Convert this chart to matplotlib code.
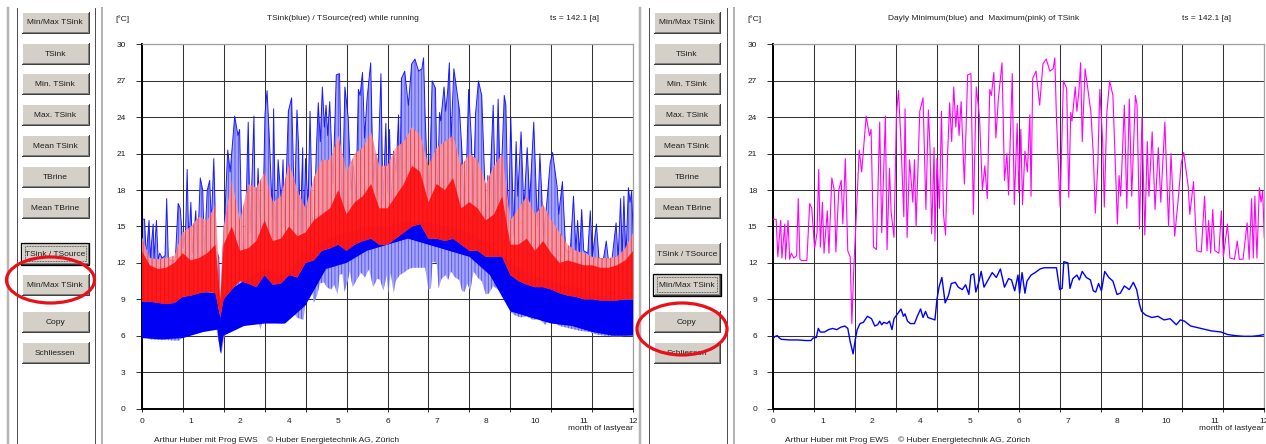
import numpy as np
import matplotlib.pyplot as plt
from matplotlib.patches import Rectangle, Ellipse

plt.rcParams['font.family'] = ['Liberation Sans', 'DejaVu Sans']
plt.rcParams['hatch.linewidth'] = 0.6

#======================================================================================
#=================================<<< Chart data >>>===================================
#======================================================================================
# daily maximum of TSink (pink, right chart / upper envelope left chart)
tmax_month = [0.00, 0.07, 0.11, 0.18, 0.21, 0.28, 0.30, 0.36, 0.40, 0.44,
              0.50, 0.57, 0.61, 0.65, 0.69, 0.82, 0.89, 0.94, 1.01, 1.07,
              1.11, 1.15, 1.20, 1.24, 1.32, 1.36, 1.43, 1.49, 1.53, 1.60,
              1.66, 1.70, 1.76, 1.82, 1.88, 1.92, 1.97, 2.03, 2.10, 2.16,
              2.27, 2.35, 2.39, 2.45, 2.52, 2.60, 2.65, 2.74, 2.78, 2.84,
              2.88, 2.95, 3.01, 3.06, 3.12, 3.19, 3.22, 3.27, 3.33, 3.41,
              3.45, 3.49, 3.58, 3.66, 3.73, 3.79, 3.83, 3.87, 3.93, 3.95,
              4.00, 4.06, 4.11, 4.16, 4.21, 4.26, 4.31, 4.36, 4.41, 4.46,
              4.50, 4.54, 4.59, 4.67, 4.75, 4.83, 4.89, 4.96, 5.04, 5.11,
              5.17, 5.23, 5.29, 5.33, 5.39, 5.44, 5.50, 5.59, 5.65, 5.71,
              5.75, 5.84, 5.89, 5.96, 6.00, 6.05, 6.09, 6.15, 6.21, 6.27,
              6.30, 6.34, 6.42, 6.51, 6.59, 6.67, 6.76, 6.84, 6.88, 6.92,
              6.96, 7.01, 7.09, 7.17, 7.22, 7.27, 7.30, 7.38, 7.42, 7.47,
              7.51, 7.55, 7.62, 7.68, 7.76, 7.82, 7.87, 7.93, 7.98, 8.05,
              8.09, 8.15, 8.22, 8.30, 8.34, 8.41, 8.45, 8.49, 8.58, 8.64,
              8.70, 8.76, 8.85, 8.89, 8.95, 9.01, 9.08, 9.14, 9.18, 9.26,
              9.33, 9.41, 9.47, 9.57, 9.66, 9.72, 9.81, 9.89, 9.97, 10.03,
              10.14, 10.18, 10.27, 10.35, 10.46, 10.54, 10.60, 10.64, 10.69, 10.74,
              10.79, 10.89, 10.95, 11.00, 11.10, 11.16, 11.27, 11.34, 11.39, 11.48,
              11.58, 11.63, 11.69, 11.73, 11.77, 11.82, 11.88, 11.92, 11.96, 12.00]
tmax_val = [15.6, 15.6, 12.5, 15.5, 12.4, 15.2, 12.3, 15.5, 12.3, 12.8,
            12.4, 12.6, 17.3, 12.3, 12.2, 12.2, 16.9, 16.5, 13.2, 14.5,
            19.7, 13.3, 17.0, 12.8, 16.3, 12.8, 19.0, 18.0, 12.9, 18.0,
            18.8, 15.2, 20.6, 13.0, 12.5, 7.0, 11.8, 16.0, 21.3, 19.5,
            24.1, 22.5, 23.0, 13.3, 13.1, 23.6, 14.5, 24.1, 13.1, 19.8,
            16.2, 14.1, 24.3, 26.2, 22.0, 15.8, 24.7, 14.1, 20.5, 17.0,
            20.5, 15.0, 24.5, 25.6, 16.4, 24.6, 21.5, 14.4, 21.5, 13.8,
            20.6, 16.5, 24.5, 16.0, 14.3, 21.0, 25.2, 22.0, 26.5, 23.2,
            25.0, 22.5, 25.3, 18.5, 27.5, 27.6, 16.0, 26.5, 24.0, 18.0,
            20.0, 17.3, 26.3, 25.8, 27.7, 22.3, 25.5, 28.5, 18.8, 21.0,
            17.6, 27.6, 16.8, 23.5, 17.8, 23.0, 16.8, 21.2, 19.5, 24.2,
            17.5, 27.2, 27.8, 25.0, 28.4, 28.8, 27.8, 28.0, 28.9, 24.0,
            20.6, 16.6, 27.0, 26.4, 17.4, 24.4, 23.7, 26.5, 24.5, 26.2,
            28.5, 22.0, 28.0, 26.5, 24.5, 21.0, 16.1, 20.0, 26.3, 22.0,
            16.6, 24.3, 27.0, 25.8, 22.0, 15.2, 19.2, 17.5, 25.0, 16.5,
            25.5, 17.5, 25.8, 25.0, 14.8, 24.0, 14.3, 22.0, 17.5, 22.8,
            16.4, 21.5, 17.0, 23.6, 15.0, 21.0, 14.2, 17.0, 20.2, 21.1,
            18.3, 16.0, 18.7, 13.0, 12.9, 17.5, 13.0, 15.5, 12.8, 16.4,
            13.0, 12.8, 16.3, 12.5, 15.2, 12.4, 12.3, 13.8, 12.3, 12.3,
            15.3, 12.3, 17.3, 12.4, 17.5, 12.4, 18.2, 17.0, 17.9, 14.1]

# daily minimum of TSink (blue, right chart / lower envelope left chart)
tmin_month = [0.00, 0.05, 0.10, 0.15, 0.20, 0.40, 0.60, 0.80, 0.92, 0.97,
              1.05, 1.10, 1.15, 1.25, 1.35, 1.45, 1.55, 1.65, 1.75, 1.82,
              1.88, 1.95, 2.00, 2.05, 2.12, 2.20, 2.30, 2.40, 2.48, 2.55,
              2.60, 2.65, 2.70, 2.78, 2.84, 2.90, 2.95, 3.12, 3.18, 3.22,
              3.28, 3.35, 3.45, 3.52, 3.60, 3.66, 3.72, 3.78, 3.95, 4.00,
              4.05, 4.12, 4.20, 4.28, 4.35, 4.45, 4.52, 4.62, 4.70, 4.78,
              4.83, 4.90, 4.95, 5.03, 5.08, 5.15, 5.25, 5.35, 5.45, 5.55,
              5.65, 5.75, 5.82, 5.90, 5.98, 6.02, 6.08, 6.15, 6.20, 6.30,
              6.40, 6.52, 6.62, 6.80, 6.92, 7.00, 7.06, 7.10, 7.20, 7.25,
              7.32, 7.42, 7.48, 7.55, 7.65, 7.75, 7.82, 7.88, 7.95, 8.02,
              8.10, 8.20, 8.30, 8.40, 8.48, 8.58, 8.70, 8.80, 8.88, 8.95,
              9.00, 9.10, 9.25, 9.40, 9.55, 9.70, 9.85, 9.95, 10.05, 10.20,
              10.45, 10.70, 10.95, 11.10, 11.30, 11.50, 11.70, 11.85, 12.00]
tmin_val = [5.8, 5.95, 6.0, 5.8, 5.7, 5.65, 5.65, 5.6, 5.6, 5.8,
            5.85, 6.6, 6.3, 6.3, 6.5, 6.6, 6.5, 6.7, 6.8, 6.6,
            5.5, 4.5, 5.6, 6.5, 7.0, 7.1, 7.6, 7.4, 6.8, 6.9,
            7.2, 6.9, 7.1, 7.0, 7.2, 6.5, 7.4, 8.2, 7.6, 7.8,
            7.2, 7.0, 7.0, 7.6, 8.2, 7.5, 8.0, 7.5, 7.3, 9.0,
            10.0, 10.8, 8.7, 9.3, 10.3, 10.4, 10.0, 9.8, 10.2, 9.4,
            11.0, 11.1, 9.6, 10.5, 11.3, 10.0, 10.6, 11.2, 10.8, 11.5,
            10.0, 10.7, 10.6, 9.7, 11.0, 9.5, 11.2, 9.5, 10.5, 11.0,
            11.2, 11.5, 11.6, 11.6, 11.6, 9.8, 9.9, 12.1, 12.0, 9.9,
            10.7, 11.0, 10.6, 11.3, 10.8, 10.6, 9.7, 9.6, 10.3, 9.7,
            11.3, 10.8, 10.5, 9.4, 9.5, 10.1, 9.8, 10.4, 9.8, 8.6,
            8.0, 7.7, 7.5, 7.6, 7.3, 7.4, 6.9, 7.3, 7.2, 6.8,
            6.6, 6.4, 6.3, 6.1, 6.0, 5.95, 5.95, 6.0, 6.1]

# dense part of TSink while running (dark blue band, left chart)
core_month = [0.0, 0.5, 1.0, 1.5, 1.85, 1.92, 2.0, 2.5, 3.0, 3.5, 4.0, 4.5, 5.0,
              5.5, 6.0, 6.5, 7.0, 7.5, 8.0, 8.5, 9.0, 9.5, 10.0, 10.5, 11.0, 11.5, 12.0]
core_lo = [5.8, 5.7, 5.8, 6.3, 6.5, 4.5, 6.0, 6.8, 7.0, 7.0, 8.5, 11.5, 12.0,
           13.0, 13.5, 14.0, 13.5, 13.0, 12.5, 11.0, 8.0, 7.5, 7.0, 6.8, 6.3, 6.0, 6.0]
core_hi = [9.0, 8.7, 9.2, 9.6, 9.5, 7.5, 9.5, 10.5, 11.5, 11.0, 13.0, 14.0, 14.5,
           15.0, 15.0, 15.5, 15.3, 15.0, 14.5, 13.5, 12.0, 11.0, 10.5, 10.0, 9.5, 9.0, 9.0]

# TSource while running (red, left chart)
src_month = [0.0, 0.2, 0.4, 0.6, 0.8, 1.0, 1.2, 1.4, 1.6, 1.8, 1.92, 2.0, 2.2, 2.4,
             2.6, 2.8, 3.0, 3.2, 3.4, 3.6, 3.8, 4.0, 4.2, 4.4, 4.6, 4.8, 5.0, 5.2,
             5.4, 5.6, 5.8, 6.0, 6.2, 6.4, 6.6, 6.8, 7.0, 7.2, 7.4, 7.6, 7.8, 8.0,
             8.2, 8.4, 8.6, 8.8, 9.0, 9.2, 9.4, 9.6, 9.8, 10.0, 10.2, 10.4, 10.6,
             10.8, 11.0, 11.2, 11.4, 11.6, 11.8, 12.0]
src_lo = [8.8, 8.8, 8.7, 8.6, 8.7, 9.2, 9.3, 9.5, 9.6, 9.5, 7.5, 9.0, 9.8, 10.5,
          10.3, 10.0, 11.0, 10.2, 10.3, 11.0, 10.8, 12.0, 12.2, 13.0, 13.2, 13.5, 13.0, 13.5,
          13.8, 14.0, 13.5, 13.5, 14.0, 14.5, 15.0, 15.2, 14.0, 14.0, 13.8, 14.0, 13.5, 13.0,
          13.0, 12.5, 12.5, 12.5, 11.0, 10.5, 10.2, 10.0, 10.0, 9.8, 9.5, 9.3, 9.2,
          9.0, 9.0, 8.9, 8.9, 8.9, 9.0, 9.0]
src_core = [13.0, 11.8, 11.5, 11.6, 12.0, 12.8, 12.2, 12.4, 12.8, 13.5, 9.0, 13.5, 15.0, 13.0,
            13.2, 13.8, 15.5, 13.8, 14.0, 15.0, 14.2, 14.5, 15.5, 16.0, 16.5, 18.0, 16.0, 17.0,
            17.5, 18.5, 16.5, 16.5, 17.5, 18.5, 20.0, 19.5, 17.0, 18.5, 18.0, 19.0, 16.5, 17.0,
            16.5, 15.5, 16.0, 17.5, 13.5, 13.5, 14.0, 13.0, 13.8, 12.8, 12.0, 12.2, 12.0,
            11.8, 11.8, 11.6, 11.6, 11.8, 12.2, 13.0]
src_hi = [14.2, 12.4, 12.3, 12.4, 12.6, 14.5, 15.0, 15.8, 15.5, 16.8, 9.5, 15.0, 18.8, 15.5,
          18.5, 18.2, 19.5, 17.0, 17.5, 20.2, 18.0, 16.5, 19.0, 20.5, 20.5, 22.5, 19.5, 21.0,
          21.5, 22.8, 20.0, 20.0, 21.5, 22.0, 23.2, 22.5, 20.0, 21.5, 22.0, 22.5, 20.0, 21.0,
          20.5, 18.5, 20.0, 21.0, 15.5, 16.5, 17.5, 16.0, 16.8, 15.5, 14.5, 13.5, 13.0,
          12.8, 12.5, 12.4, 12.4, 12.5, 13.2, 14.5]

# axis labelling (grid at whole months, labels at tenths of the year, rounded)
xlabel_pos = [0, 1.2, 2.4, 3.6, 4.8, 6.0, 7.2, 8.4, 9.6, 10.8, 12]
xlabels = ['0', '1', '2', '4', '5', '6', '7', '8', '10', '11', '12']
yticks = [0, 3, 6, 9, 12, 15, 18, 21, 24, 27, 30]

button_labels = ['Min/Max TSink', 'TSink', 'Min. TSink', 'Max. TSink', 'Mean TSink',
                 'TBrine', 'Mean TBrine', 'TSink / TSource', 'Min/Max TSink', 'Copy', 'Schliessen']
button_tops = [12, 43, 73, 104, 135, 166, 197, 243, 274, 311, 342]

FOOTER = 'Arthur Huber mit Prog EWS    \u00a9 Huber Energietechnik AG, Z\u00fcrich'
FS = 6.0
TXT = '#1e1e1e'

#======================================================================================
#===============================<<< Figure / window >>>================================
#======================================================================================
W, H = 1266, 444
fig = plt.figure(figsize=(W / 100, H / 100), dpi=100)
bg = fig.add_axes([0, 0, 1, 1])
bg.set_xlim(0, W)
bg.set_ylim(H, 0)
bg.axis('off')


def px(v):
    return v * 0.72  # pixel -> points at 100 dpi


def px_axes(x0, x1, top, bottom):
    return fig.add_axes([x0 / W, 1 - bottom / H, (x1 - x0) / W, (bottom - top) / H])


def draw_button(x, y, w, h, label, default=False):
    bg.add_patch(Rectangle((x, y), w, h, facecolor='#d4d0c8', edgecolor='none', zorder=2))
    bg.plot([x, x, x + w], [y + h, y, y], color='white', lw=px(1), zorder=3)
    bg.plot([x + 1, x + w - 1, x + w - 1], [y + h - 1, y + h - 1, y + 1], color='#808080', lw=px(1), zorder=3)
    bg.plot([x, x + w, x + w], [y + h, y + h, y], color='#404040', lw=px(1), zorder=3)
    if default:
        bg.add_patch(Rectangle((x - 0.5, y - 0.5), w + 1, h + 1, fill=False,
                               edgecolor='black', lw=px(1.3), zorder=4))
        bg.add_patch(Rectangle((x + 3, y + 3), w - 6, h - 6, fill=False, edgecolor='#303030',
                               lw=px(0.8), ls=(0, (1, 1)), zorder=4))
    bg.text(x + w / 2, y + h / 2 + 0.5, label, ha='center', va='center',
            fontsize=FS, color=TXT, zorder=5)


def draw_panel(x_left, x_right, default_idx):
    # separator lines of the window frame
    bg.plot([x_left - 9, x_left - 9], [8, H], color='#b4b4b4', lw=px(2.5), zorder=1)
    bg.plot([x_left, x_left], [8, H], color='#505050', lw=px(1), zorder=1)
    bg.plot([x_right, x_right], [8, H], color='#505050', lw=px(1), zorder=1)
    bg.plot([x_right + 7, x_right + 7], [8, H], color='#b4b4b4', lw=px(2), zorder=1)
    bx = x_left + 4.5
    bw = x_right - x_left - 11
    for i, (lab, top) in enumerate(zip(button_labels, button_tops)):
        draw_button(bx, top, bw, 21, lab, default=(i == default_idx))


def setup_chart(ax):
    ax.set_xlim(0, 12)
    ax.set_ylim(0, 30)
    ax.set_xticks(range(13))
    ax.set_xticks(xlabel_pos, minor=True)
    ax.set_xticklabels(xlabels, minor=True)
    ax.xaxis.remove_overlapping_locs = False
    ax.tick_params(axis='x', which='major', length=2.5, width=0.7, color='#303030', labelbottom=False)
    ax.tick_params(axis='x', which='minor', length=0, pad=6.5, labelsize=FS, labelcolor=TXT)
    ax.set_yticks(yticks)
    ax.tick_params(axis='y', length=4.5, width=0.7, color='#303030', pad=7, labelsize=FS, labelcolor=TXT)
    ax.grid(True, which='major', color='#333333', lw=0.75)
    ax.set_axisbelow(True)
    for s in ['top', 'right']:
        ax.spines[s].set_color('#a0a0a0')
        ax.spines[s].set_linewidth(0.9)
    for s in ['left', 'bottom']:
        ax.spines[s].set_color('black')
        ax.spines[s].set_linewidth(1.4)


draw_panel(17.3, 95, default_idx=7)
draw_panel(649, 726.7, default_idx=8)

# ==============<<< 1.) TSink / TSource while running >>>==============
axL = px_axes(141.7, 633.3, 44.5, 408.5)
setup_chart(axL)
tmax_m, tmax_v = np.array(tmax_month), np.array(tmax_val)
tmin_m, tmin_v = np.array(tmin_month), np.array(tmin_val)
axL.fill(np.r_[tmax_m, tmin_m[::-1]], np.r_[tmax_v, tmin_v[::-1]],
         facecolor='#a4a4fa', edgecolor='#5050f0', hatch='|||||', lw=0, zorder=2)
axL.fill(np.r_[core_month, core_month[::-1]], np.r_[core_hi, core_lo[::-1]],
         color='#0000f4', lw=0, zorder=3)
axL.plot(tmax_m, tmax_v, color='#0808ff', lw=0.7, alpha=0.9, zorder=3)
axL.fill(np.r_[src_month, src_month[::-1]], np.r_[src_hi, src_lo[::-1]],
         facecolor='#ff9a9a', edgecolor='#ff2020', hatch='||||', lw=0, alpha=0.85, zorder=4)
axL.fill(np.r_[src_month, src_month[::-1]], np.r_[src_core, src_lo[::-1]],
         color='#ff0000', alpha=0.82, lw=0, zorder=5)

# ==============<<< 2.) Daily minimum / maximum of TSink >>>==============
axR = px_axes(773.3, 1264.3, 44.5, 408.5)
setup_chart(axR)
axR.plot(tmax_month, tmax_val, color='#ff00ff', lw=0.8, zorder=3)
axR.plot(tmin_month, tmin_val, color='#0000ff', lw=1.0, zorder=3)

# ==============<<< texts around the charts >>>==============
for x0, x_title, x_ts, title in [(115, 343, 550, 'TSink(blue) / TSource(red) while running'),
                                 (747, 984, 1182, 'Dayly Minimum(blue) and  Maximum(pink) of TSink')]:
    bg.text(x0, 19, '[\u00b0C]', ha='left', va='center', fontsize=FS, color=TXT)
    bg.text(x_title, 19, title, ha='center', va='center', fontsize=FS, color=TXT)
    bg.text(x_ts, 19, 'ts = 142.1 [a]', ha='left', va='center', fontsize=FS, color=TXT)

for x_foot, x_month in [(154, 568), (785, 1199)]:
    bg.text(x_foot, 440, FOOTER, ha='left', va='center', fontsize=FS, color=TXT)
    bg.text(x_month, 428, 'month of lastyear', ha='left', va='center', fontsize=FS, color=TXT)

# red marker ellipses
bg.add_patch(Ellipse((50.5, 280), 88, 46, fill=False, edgecolor='#e8101a', lw=px(3.2), zorder=10))
bg.add_patch(Ellipse((682, 329), 90, 52, fill=False, edgecolor='#e8101a', lw=px(3.2), zorder=10))

fig.savefig('out.png', dpi=100)
